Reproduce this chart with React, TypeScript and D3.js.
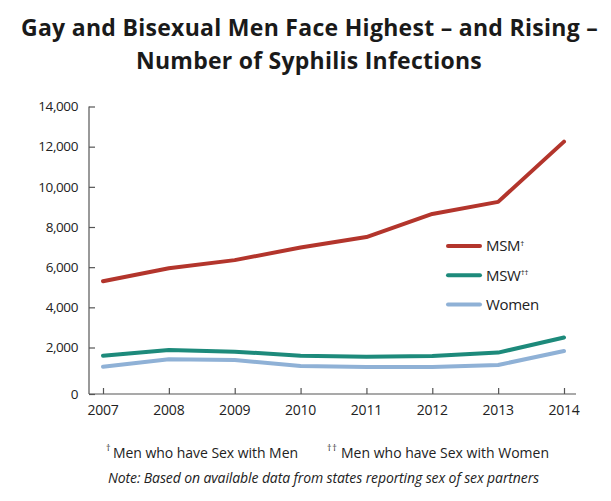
import { useEffect, useRef } from "react"
import * as d3 from "d3"

const years = ["2007", "2008", "2009", "2010", "2011", "2012", "2013", "2014"]
const msm = [5300, 5950, 6350, 6980, 7500, 8650, 9250, 12250]
const msw = [1650, 1890, 1820, 1650, 1600, 1630, 1780, 2500]
const women = [1170, 1490, 1460, 1200, 1160, 1160, 1250, 1850]
const yTicks = [0, 2000, 4000, 6000, 8000, 10000, 12000, 14000]

const seriesList = [
  { name: "MSM", sup: "†", values: msm, color: "#b3352c" },
  { name: "MSW", sup: "††", values: msw, color: "#1d8a7b" },
  { name: "Women", sup: "", values: women, color: "#8fb1d6" },
]

const footnotes = [
  { sup: "†", text: "Men who have Sex with Men" },
  { sup: "††", text: "Men who have Sex with Women" },
]

const font = "'Open Sans', 'Liberation Sans', sans-serif"

// squeeze a text to a target width with letter-spacing instead of stretching glyphs
function fitWidth(sel: d3.Selection<SVGTextElement, unknown, null, undefined>, target: number) {
  const node = sel.node()
  if (!node) return
  const natural = node.getComputedTextLength()
  const n = (node.textContent || "").length
  if (n > 1) sel.attr("letter-spacing", (target - natural) / n)
}

export default function App() {
  const svgRef = useRef<SVGSVGElement>(null)

  useEffect(() => {
    if (!svgRef.current) return
    const svg = d3.select(svgRef.current)
    svg.selectAll("*").remove()

    const W = 611
    const H = 501

    svg.append("rect").attr("width", W).attr("height", H).attr("fill", "#ffffff")

    // Title
    const title = svg.append("g").attr("font-family", font).attr("font-weight", 700).attr("fill", "#1a1a1a")
    const t1 = title
      .append("text")
      .attr("x", 309.5)
      .attr("y", 36)
      .attr("text-anchor", "middle")
      .attr("font-size", 23)
      .text("Gay and Bisexual Men Face Highest – and Rising –")
    fitWidth(t1, 577)
    const t2 = title
      .append("text")
      .attr("x", 309)
      .attr("y", 69)
      .attr("text-anchor", "middle")
      .attr("font-size", 23)
      .text("Number of Syphilis Infections")
    fitWidth(t2, 346)

    // Scales
    const x = d3.scalePoint<string>().domain(years).range([103, 564])
    const y = d3.scaleLinear().domain([0, 2000, 14000]).range([394, 347.5, 106.5])

    const axisColor = "#555555"

    // Y axis (ticks point inward)
    const yAxis = svg
      .append("g")
      .attr("transform", "translate(89,0)")
      .call(d3.axisRight(y).tickValues(yTicks).tickSize(6).tickFormat(() => ""))
    yAxis.select(".domain").attr("stroke", axisColor).attr("stroke-width", 1.2).attr("d", `M0,${y(14000)}V${y(0)}`)
    yAxis.selectAll(".tick line").attr("stroke", axisColor).attr("stroke-width", 1.2)

    svg
      .append("g")
      .selectAll("text")
      .data(yTicks)
      .enter()
      .append("text")
      .attr("x", 78)
      .attr("y", (d) => y(d))
      .attr("dy", "0.35em")
      .attr("text-anchor", "end")
      .attr("font-family", font)
      .attr("font-size", 13.5)
      .attr("letter-spacing", -0.4)
      .attr("fill", "#222")
      .text((d) => d3.format(",")(d))

    // X axis (ticks point inward)
    const xAxis = svg
      .append("g")
      .attr("transform", `translate(0,${y(0)})`)
      .call(d3.axisTop(x).tickSize(6).tickFormat(() => ""))
    xAxis.select(".domain").attr("stroke", axisColor).attr("stroke-width", 1.2).attr("d", "M89,0H576")
    xAxis.selectAll(".tick line").attr("stroke", axisColor).attr("stroke-width", 1.2)

    svg
      .append("g")
      .selectAll("text")
      .data(years)
      .enter()
      .append("text")
      .attr("x", (d) => x(d) as number)
      .attr("y", 415)
      .attr("text-anchor", "middle")
      .attr("font-family", font)
      .attr("font-size", 14)
      .attr("letter-spacing", -0.2)
      .attr("fill", "#222")
      .text((d) => d)

    // Lines
    const line = d3
      .line<number>()
      .x((_, i) => x(years[i]) as number)
      .y((d) => y(d))

    seriesList
      .slice()
      .reverse()
      .forEach((s) => {
        svg
          .append("path")
          .attr("d", line(s.values))
          .attr("fill", "none")
          .attr("stroke", s.color)
          .attr("stroke-width", 4)
          .attr("stroke-linejoin", "round")
          .attr("stroke-linecap", "round")
      })

    // Legend
    const legend = svg.append("g").attr("transform", "translate(448,246)")
    seriesList.forEach((s, i) => {
      const g = legend.append("g").attr("transform", `translate(0,${i * 29.3})`)
      g.append("line")
        .attr("x1", 0)
        .attr("x2", 32)
        .attr("stroke", s.color)
        .attr("stroke-width", 4)
        .attr("stroke-linecap", "round")
      const t = g
        .append("text")
        .attr("x", 38)
        .attr("dy", "0.36em")
        .attr("font-family", font)
        .attr("font-size", 15)
        .attr("letter-spacing", -0.3)
        .attr("fill", "#222")
        .text(s.name)
      if (s.sup) {
        t.append("tspan").attr("font-size", 8).attr("dy", "-0.7em").text(s.sup)
      }
    })

    // Footnotes
    const foot = svg.append("g").attr("font-family", font).attr("fill", "#222")
    const footPos = [
      { supX: 106, textX: 113, width: 185 },
      { supX: 327, textX: 341, width: 208 },
    ]
    footnotes.forEach((f, i) => {
      const s = foot
        .append("text")
        .attr("x", footPos[i].supX)
        .attr("y", 451)
        .attr("font-size", 9)
        .text(f.sup)
      if (f.sup.length > 1) s.attr("letter-spacing", 0.8)
      const t = foot
        .append("text")
        .attr("x", footPos[i].textX)
        .attr("y", 458)
        .attr("font-size", 14)
        .text(f.text)
      fitWidth(t, footPos[i].width)
    })

    const note = foot
      .append("text")
      .attr("x", 108)
      .attr("y", 483)
      .attr("font-size", 14)
      .attr("font-style", "italic")
      .text("Note: Based on available data from states reporting sex of sex partners")
    fitWidth(note, 431)
  }, [])

  return (
    <svg
      ref={svgRef}
      width={611}
      height={501}
      style={{ position: "absolute", left: 0, top: 0, display: "block" }}
    ></svg>
  )
}
